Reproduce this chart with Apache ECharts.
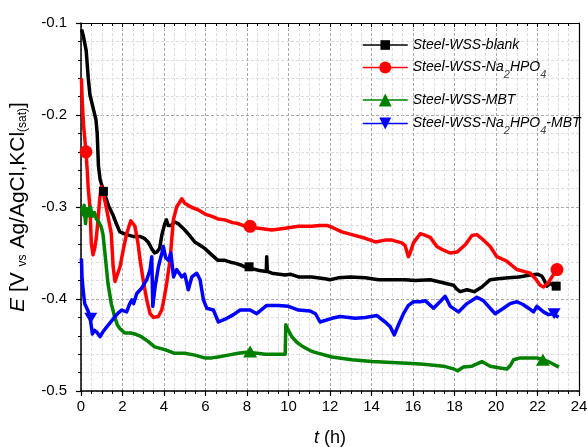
<!DOCTYPE html>
<html>
<head>
<meta charset="utf-8">
<script src="https://cdn.jsdelivr.net/npm/echarts@6/dist/echarts.min.js"></script>
<style>
html,body{margin:0;padding:0;background:#fff;}
#chart{width:587px;height:447px;}
</style>
</head>
<body>
<div id="chart"></div>
<script>
// ---- Data (time in h, potential in V) ----
const seriesNames = ['Steel-WSS-blank', 'Steel-WSS-Na2HPO4', 'Steel-WSS-MBT', 'Steel-WSS-Na2HPO4-MBT'];
const seriesColors = ['#000000', '#ff0000', '#008000', '#0000ff'];

const xTicks = [0, 2, 4, 6, 8, 10, 12, 14, 16, 18, 20, 22, 24];
const yTicks = [-0.5, -0.4, -0.3, -0.2, -0.1];

const blankData = [[0.03,-0.107],[0.12,-0.115],[0.25,-0.13],[0.35,-0.16],[0.43,-0.178],[0.58,-0.192],[0.72,-0.205],[0.78,-0.22],[0.84,-0.255],[0.92,-0.27],[1.05,-0.28],[1.2,-0.29],[1.35,-0.3],[1.55,-0.309],[1.7,-0.318],[1.87,-0.327],[1.95,-0.329],[2.2,-0.33],[2.51,-0.332],[2.83,-0.332],[3.05,-0.334],[3.23,-0.338],[3.4,-0.345],[3.55,-0.35],[3.65,-0.349],[3.79,-0.345],[3.9,-0.33],[4.04,-0.318],[4.12,-0.314],[4.2,-0.32],[4.36,-0.32],[4.5,-0.316],[4.68,-0.318],[5.0,-0.325],[5.2,-0.33],[5.48,-0.338],[5.7,-0.341],[5.96,-0.345],[6.3,-0.352],[6.6,-0.358],[6.93,-0.358],[7.2,-0.36],[7.41,-0.361],[7.7,-0.363],[7.89,-0.365],[8.23,-0.367],[8.6,-0.369],[8.93,-0.37],[8.95,-0.354],[8.98,-0.37],[9.2,-0.372],[9.84,-0.374],[10.08,-0.373],[10.48,-0.376],[11.12,-0.376],[11.76,-0.378],[12.0,-0.379],[12.4,-0.377],[12.97,-0.376],[13.7,-0.377],[14.34,-0.379],[14.98,-0.379],[15.62,-0.379],[16.1,-0.38],[16.83,-0.379],[17.4,-0.382],[17.95,-0.385],[18.1,-0.389],[18.27,-0.392],[18.6,-0.39],[18.95,-0.392],[19.32,-0.387],[19.72,-0.379],[20.1,-0.378],[20.6,-0.377],[21.1,-0.376],[21.65,-0.374],[22.0,-0.373],[22.2,-0.375],[22.29,-0.378],[22.45,-0.386],[22.6,-0.383],[22.8,-0.386],[22.95,-0.386]];

const na2hpo4Data = [[0.02,-0.16],[0.06,-0.185],[0.12,-0.21],[0.24,-0.24],[0.3,-0.26],[0.35,-0.28],[0.43,-0.3],[0.5,-0.34],[0.58,-0.352],[0.66,-0.345],[0.74,-0.333],[0.82,-0.314],[0.9,-0.292],[0.98,-0.278],[1.05,-0.282],[1.14,-0.292],[1.3,-0.31],[1.46,-0.329],[1.55,-0.365],[1.64,-0.381],[1.72,-0.379],[1.88,-0.365],[2.05,-0.345],[2.2,-0.329],[2.4,-0.315],[2.6,-0.321],[2.75,-0.34],[2.85,-0.358],[3.0,-0.38],[3.17,-0.401],[3.33,-0.416],[3.49,-0.42],[3.73,-0.419],[3.89,-0.412],[4.0,-0.4],[4.13,-0.383],[4.29,-0.358],[4.45,-0.314],[4.61,-0.3],[4.86,-0.291],[5.0,-0.296],[5.3,-0.3],[5.64,-0.303],[6.0,-0.308],[6.28,-0.31],[6.6,-0.313],[6.93,-0.314],[7.3,-0.317],[7.57,-0.318],[8.05,-0.322],[8.55,-0.323],[9.2,-0.325],[9.84,-0.323],[10.48,-0.321],[11.12,-0.321],[11.5,-0.32],[11.85,-0.32],[12.09,-0.322],[12.57,-0.327],[13.05,-0.33],[13.7,-0.334],[14.18,-0.338],[14.66,-0.336],[14.98,-0.336],[15.46,-0.339],[15.62,-0.342],[15.78,-0.354],[15.86,-0.35],[16.02,-0.339],[16.35,-0.329],[16.5,-0.33],[16.83,-0.333],[17.15,-0.343],[17.47,-0.347],[17.79,-0.35],[18.12,-0.349],[18.52,-0.341],[18.84,-0.331],[19.08,-0.33],[19.3,-0.334],[19.72,-0.343],[20.04,-0.354],[20.53,-0.359],[21.01,-0.368],[21.33,-0.37],[21.65,-0.372],[21.9,-0.378],[22.13,-0.385],[22.29,-0.387],[22.53,-0.382],[22.75,-0.374],[22.94,-0.368]];

const mbtData = [[0.02,-0.3],[0.1,-0.308],[0.15,-0.298],[0.22,-0.318],[0.28,-0.302],[0.35,-0.305],[0.45,-0.3],[0.55,-0.31],[0.65,-0.306],[0.74,-0.313],[0.85,-0.316],[0.98,-0.322],[1.06,-0.33],[1.14,-0.347],[1.22,-0.365],[1.3,-0.383],[1.46,-0.405],[1.62,-0.419],[1.75,-0.428],[1.87,-0.432],[2.11,-0.437],[2.4,-0.437],[2.59,-0.438],[2.91,-0.441],[3.23,-0.446],[3.55,-0.452],[4.04,-0.455],[4.52,-0.459],[5.0,-0.459],[5.48,-0.461],[5.96,-0.464],[6.3,-0.464],[6.6,-0.463],[7.09,-0.461],[7.57,-0.459],[7.97,-0.458],[8.5,-0.459],[8.87,-0.46],[9.4,-0.46],[9.84,-0.46],[9.86,-0.44],[9.87,-0.428],[9.95,-0.432],[10.16,-0.441],[10.4,-0.447],[10.64,-0.451],[11.04,-0.456],[11.28,-0.458],[12.09,-0.463],[13.05,-0.466],[14.02,-0.468],[14.98,-0.469],[15.95,-0.47],[16.5,-0.471],[17.47,-0.473],[17.95,-0.476],[18.15,-0.478],[18.43,-0.474],[18.84,-0.473],[19.32,-0.468],[19.72,-0.473],[20.2,-0.475],[20.53,-0.476],[20.7,-0.472],[20.85,-0.466],[21.17,-0.464],[21.97,-0.464],[22.26,-0.466],[22.61,-0.469],[23.03,-0.474]];

const na2hpo4MbtData = [[0.02,-0.356],[0.05,-0.376],[0.1,-0.39],[0.18,-0.405],[0.34,-0.413],[0.42,-0.418],[0.5,-0.43],[0.55,-0.438],[0.65,-0.434],[0.76,-0.436],[0.92,-0.441],[1.08,-0.435],[1.25,-0.43],[1.4,-0.426],[1.64,-0.419],[1.8,-0.415],[1.96,-0.412],[2.2,-0.414],[2.35,-0.405],[2.45,-0.401],[2.53,-0.405],[2.69,-0.394],[2.93,-0.388],[3.17,-0.379],[3.33,-0.368],[3.41,-0.354],[3.46,-0.408],[3.57,-0.387],[3.73,-0.365],[3.9,-0.35],[3.97,-0.343],[4.08,-0.355],[4.21,-0.358],[4.33,-0.35],[4.46,-0.376],[4.61,-0.368],[4.86,-0.376],[5.0,-0.373],[5.17,-0.39],[5.34,-0.376],[5.58,-0.372],[5.74,-0.379],[5.9,-0.401],[6.06,-0.41],[6.38,-0.412],[6.62,-0.425],[7.03,-0.421],[7.35,-0.417],[7.67,-0.412],[8.15,-0.412],[8.47,-0.416],[8.95,-0.407],[9.51,-0.407],[10.0,-0.408],[10.48,-0.412],[11.04,-0.413],[11.3,-0.416],[11.52,-0.425],[12.09,-0.421],[12.49,-0.419],[13.21,-0.421],[13.7,-0.42],[14.26,-0.418],[14.66,-0.425],[14.9,-0.43],[15.1,-0.439],[15.3,-0.428],[15.54,-0.416],[15.78,-0.407],[16.02,-0.403],[16.35,-0.403],[16.6,-0.402],[16.99,-0.41],[17.3,-0.403],[17.55,-0.397],[17.8,-0.408],[18.19,-0.414],[18.6,-0.405],[19.08,-0.398],[19.4,-0.402],[19.96,-0.416],[20.36,-0.41],[20.68,-0.405],[21.01,-0.403],[21.3,-0.406],[21.57,-0.41],[21.81,-0.414],[21.97,-0.408],[22.29,-0.414],[22.53,-0.417],[22.77,-0.416],[23.01,-0.42]];

// marker points shown on each curve
const blankMarkers = [[1.08,-0.283],[8.1,-0.365],[22.9,-0.386]];
const na2hpo4Markers = [[0.24,-0.24],[8.15,-0.321],[22.94,-0.368]];
const mbtMarkers = [[0.4,-0.305],[8.15,-0.457],[22.26,-0.466]];
const na2hpo4MbtMarkers = [[0.47,-0.421],[22.8,-0.416]];

// ---- Chart ----
const FONT = '"Liberation Sans", Arial, sans-serif';
const chart = echarts.init(document.getElementById('chart'), null, {renderer: 'canvas'});

const dataSets = [blankData, na2hpo4Data, mbtData, na2hpo4MbtData];
const markerSets = [blankMarkers, na2hpo4Markers, mbtMarkers, na2hpo4MbtMarkers];
const symbols = ['rect', 'circle', 'triangle', 'triangle'];
const symbolRotates = [0, 0, 0, 180];
const markerSizes = [[9, 9], 13, [14, 12], [13, 11]];
const drawOrder = [0, 2, 3, 1];

const series = [];
drawOrder.forEach(function (i) {
  series.push({
    name: seriesNames[i],
    type: 'line',
    data: dataSets[i],
    symbol: symbols[i],
    symbolRotate: symbolRotates[i],
    showSymbol: false,
    color: seriesColors[i],
    lineStyle: {width: 3.5, color: seriesColors[i], join: 'round'},
    itemStyle: {color: seriesColors[i]},
    z: 3 + i,
    animation: false
  });
});
drawOrder.forEach(function (i) {
  series.push({
    name: seriesNames[i] + ' markers',
    type: 'scatter',
    data: markerSets[i],
    symbol: symbols[i],
    symbolRotate: symbolRotates[i],
    symbolSize: markerSizes[i],
    itemStyle: {color: seriesColors[i], opacity: 1},
    z: 10,
    animation: false
  });
});

const legendTops = [32, 50, 87, 106];
const legendItemHeights = [12, 15, 16, 15];
const legends = seriesNames.map(function (n, i) {
  return {
    data: [n],
    left: 357,
    top: legendTops[i],
    orient: 'vertical',
    itemWidth: 45,
    itemHeight: legendItemHeights[i],
    selectedMode: false,
    lineStyle: {width: 1.5},
    formatter: function (name) {
      return name.replace('Na2HPO4', 'Na{sub|2}HPO{sub|4}');
    },
    textStyle: {
      fontSize: 14,
      fontStyle: 'italic',
      fontFamily: FONT,
      color: '#000',
      lineHeight: 16,
      rich: {
        sub: {fontSize: 11, fontStyle: 'italic', fontFamily: FONT, color: '#444', lineHeight: 11, padding: [14, 0, 0, 0]}
      }
    }
  };
});

const axisCommon = {
  axisLine: {show: true, onZero: false, lineStyle: {color: '#000', width: 1.5}},
  axisLabel: {fontSize: 15, color: '#000', fontFamily: FONT},
  splitLine: {show: true, lineStyle: {color: '#a8a8a8', type: [3, 2], width: 1}},
  minorSplitLine: {show: true, lineStyle: {color: '#dcdcdc', type: [3, 2], width: 1}}
};

const option = {
  backgroundColor: '#fff',
  animation: false,
  grid: {left: 81, right: 8, top: 23, bottom: 56, containLabel: false, outerBoundsMode: 'none'},
  legend: legends,
  xAxis: [
    Object.assign({}, axisCommon, {
      type: 'value', min: xTicks[0], max: xTicks[xTicks.length - 1], interval: 2,
      position: 'bottom',
      axisTick: {show: true, inside: false, length: 5, lineStyle: {color: '#000', width: 1.2}},
      minorTick: {show: true, splitNumber: 4, length: 3, lineStyle: {color: '#000', width: 1}},
      axisLabel: {fontSize: 15, color: '#000', fontFamily: FONT, margin: 8},
      name: '{i|t} (h)',
      nameLocation: 'middle',
      nameGap: 38,
      nameTextStyle: {fontSize: 18, color: '#000', fontFamily: FONT,
        rich: {i: {fontSize: 18, fontStyle: 'italic', color: '#000', fontFamily: FONT}}}
    }),
    {
      type: 'value', min: xTicks[0], max: xTicks[xTicks.length - 1], interval: 2,
      position: 'top',
      axisLine: {show: true, onZero: false, lineStyle: {color: '#000', width: 1.2}},
      axisTick: {show: true, inside: true, length: 4, lineStyle: {color: '#000', width: 1}},
      minorTick: {show: true, splitNumber: 4, length: 3, lineStyle: {color: '#000', width: 1}},
      axisLabel: {show: false},
      splitLine: {show: false}
    }
  ],
  yAxis: [
    Object.assign({}, axisCommon, {
      type: 'value', min: yTicks[0], max: yTicks[yTicks.length - 1], interval: 0.1,
      position: 'left',
      axisTick: {show: true, inside: false, length: 5, lineStyle: {color: '#000', width: 1.2}},
      minorTick: {show: true, splitNumber: 5, length: 3, lineStyle: {color: '#000', width: 1}},
      axisLabel: {fontSize: 15, color: '#000', fontFamily: FONT, margin: 14,
        formatter: function (v) { return v.toFixed(1); }},
      name: '{i|E} [V {s|vs} Ag/AgCl,KCl{s|(sat)}]',
      nameLocation: 'middle',
      nameGap: 52,
      nameTextStyle: {fontSize: 21, color: '#000', fontFamily: FONT, lineHeight: 22,
        rich: {
          i: {fontSize: 21, fontStyle: 'italic', color: '#000', fontFamily: FONT, lineHeight: 22},
          s: {fontSize: 12, color: '#000', fontFamily: FONT, lineHeight: 12, padding: [10, 0, 0, 0]}
        }}
    }),
    {
      type: 'value', min: yTicks[0], max: yTicks[yTicks.length - 1], interval: 0.1,
      position: 'right',
      axisLine: {show: true, onZero: false, lineStyle: {color: '#000', width: 1.2}},
      axisTick: {show: false},
      axisLabel: {show: false},
      splitLine: {show: false}
    }
  ],
  series: series
};
chart.setOption(option);
</script>
</body>
</html>
